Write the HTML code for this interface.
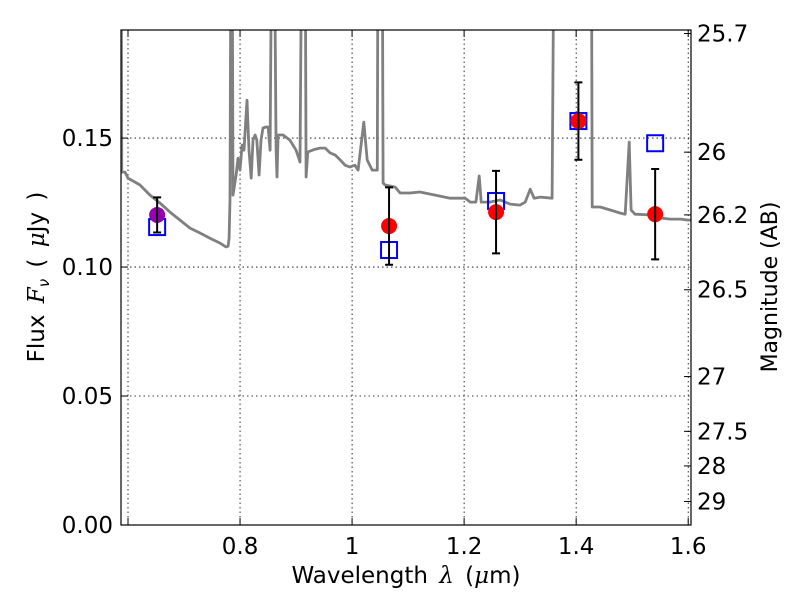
<!DOCTYPE html>
<html><head><meta charset="utf-8"><style>
body{margin:0;background:#fff}
svg text{font-family:"DejaVu Sans","Liberation Sans",sans-serif;fill:#000}
</style></head><body>
<svg id="chart" width="800" height="600" xmlns="http://www.w3.org/2000/svg">
<defs><clipPath id="clip"><rect x="121" y="30" width="570" height="495"/></clipPath></defs>
<g id="grid"></g>
<g id="spec" clip-path="url(#clip)"></g>
<g id="marks" clip-path="url(#clip)"></g>
<rect x="121" y="30" width="570" height="495" fill="none" stroke="#000" stroke-width="1.2"/>
<g id="axes"></g>
<text x="406" y="583" font-size="23" text-anchor="middle" word-spacing="4">Wavelength  <tspan font-style="italic" font-family="DejaVu Serif,serif">λ</tspan> (<tspan font-style="italic" font-family="DejaVu Serif,serif">μ</tspan>m)</text>
<text transform="translate(44,277) rotate(-90)" font-size="23" text-anchor="middle" word-spacing="4">Flux  <tspan font-style="italic" font-family="DejaVu Serif,serif">F</tspan><tspan font-style="italic" font-size="15" dy="5">ν</tspan><tspan dy="-5">  ( </tspan><tspan font-style="italic" font-family="DejaVu Serif,serif">μ</tspan>Jy )</text>
<text transform="translate(777,287) rotate(-90)" font-size="22" text-anchor="middle">Magnitude (AB)</text>
</svg>
<script>
const specLam=[0.5875,0.589,0.5946,0.6,0.6214,0.6393,0.6571,0.675,0.6929,0.7107,0.7286,0.7464,0.7643,0.775,0.7786,0.7804,0.7821,0.784,0.7857,0.7875,0.793,0.7964,0.8,0.8036,0.807,0.8125,0.816,0.82,0.8232,0.8268,0.830,0.834,0.8375,0.841,0.8464,0.85,0.8536,0.857,0.8607,0.8643,0.866,0.868,0.8768,0.889,0.9,0.907,0.9107,0.916,0.918,0.921,0.934,0.943,0.952,0.961,0.970,0.979,0.9875,0.996,1.005,1.0107,1.021,1.027,1.036,1.045,1.0464,1.0536,1.0554,1.059,1.077,1.0857,1.1036,1.121,1.157,1.175,1.202,1.211,1.221,1.227,1.2304,1.246,1.264,1.282,1.300,1.309,1.318,1.325,1.336,1.357,1.361,1.427,1.4286,1.443,1.461,1.479,1.4875,1.4946,1.498,1.505,1.532,1.55,1.568,1.586,1.6,1.605];
const specFlux=[0.25,0.1368,0.1368,0.1345,0.1318,0.1279,0.1248,0.1213,0.1182,0.1151,0.1132,0.1112,0.1093,0.1078,0.1081,0.1112,0.126,0.25,0.25,0.1279,0.1357,0.1422,0.1376,0.1473,0.1453,0.1647,0.1453,0.1345,0.1492,0.1512,0.1492,0.1357,0.1492,0.1539,0.1543,0.1543,0.1453,0.25,0.25,0.1453,0.1349,0.1512,0.1512,0.1492,0.1453,0.1407,0.25,0.25,0.1349,0.1446,0.1457,0.1461,0.1461,0.1442,0.1434,0.1415,0.1395,0.1388,0.1395,0.1376,0.1562,0.1415,0.1376,0.1376,0.25,0.25,0.1326,0.1318,0.131,0.1287,0.1287,0.1291,0.1275,0.1267,0.1267,0.1252,0.1252,0.1353,0.1252,0.1252,0.1260,0.1244,0.1240,0.1252,0.1302,0.1267,0.1271,0.1267,0.25,0.25,0.1233,0.1233,0.1221,0.1209,0.1205,0.1484,0.1221,0.1205,0.1202,0.119,0.1186,0.1186,0.1182,0.1182];
const obsLam=[0.652,1.066,1.257,1.404,1.541];
const obsFlux=[0.1202,0.1159,0.1213,0.1566,0.1205];
const obsErr=[0.0068,0.015,0.016,0.015,0.0175];
const obsColor=["#9400b0","red","red","red","red"];
const modelFlux=[0.1155,0.1066,0.1256,0.1566,0.148];
const xTicks=[0.6,0.8,1.0,1.2,1.4,1.6];
const xTickLabels=["","0.8","1","1.2","1.4","1.6"];
const yTicks=[0,0.05,0.10,0.15];
const yTickLabels=["0.00","0.05","0.10","0.15"];
const magTicks=[25.7,26,26.2,26.5,27,27.5,28,29];
const magTickLabels=["25.7","26","26.2","26.5","27","27.5","28","29"];

const NS="http://www.w3.org/2000/svg";
const X0=121,X1=691,Y0=525,Y1=30,LMIN=0.5875,LMAX=1.605,FMIN=0,FMAX=0.1919;
const sx=l=>X0+(l-LMIN)/(LMAX-LMIN)*(X1-X0);
const sy=f=>Y0-(f-FMIN)/(FMAX-FMIN)*(Y0-Y1);
const mag2f=m=>Math.pow(10,(23.9-m)/2.5);
function mk(tag,attrs,parent){const e=document.createElementNS(NS,tag);for(const k in attrs)e.setAttribute(k,attrs[k]);parent.appendChild(e);return e;}
const grid=document.getElementById('grid'),axes=document.getElementById('axes'),spec=document.getElementById('spec'),marks=document.getElementById('marks');
const FS=23;
xTicks.forEach((t,i)=>{const x=sx(t);
 const g=mk('line',{x1:x,x2:x,y1:Y1,y2:Y0,stroke:'#000','stroke-width':0.8,'stroke-dasharray':'1.5,3'},grid);
 
 
 mk('line',{x1:x,x2:x,y1:Y0,y2:Y0-7,stroke:'#000'},axes);
 mk('line',{x1:x,x2:x,y1:Y1,y2:Y1+7,stroke:'#000'},axes);
 if(xTickLabels[i]){const t2=mk('text',{x:x,y:Y0+29,'font-size':FS,'text-anchor':'middle'},axes);t2.textContent=xTickLabels[i];
 
 }
});
yTicks.forEach((t,i)=>{const y=sy(t);
 const g=mk('line',{x1:X0,x2:X1,y1:y,y2:y,stroke:'#000','stroke-width':0.8,'stroke-dasharray':'1.5,3'},grid);
 
 
 mk('line',{x1:X0,x2:X0+7,y1:y,y2:y,stroke:'#000'},axes);
 const t2=mk('text',{x:X0-8,y:y+8,'font-size':FS,'text-anchor':'end'},axes);t2.textContent=yTickLabels[i];
 
 
});
magTicks.forEach((m,i)=>{const y=sy(mag2f(m));
 mk('line',{x1:X1,x2:X1-7,y1:y,y2:y,stroke:'#000'},axes);
 const t2=mk('text',{x:X1+6,y:y+8,'font-size':FS,'text-anchor':'start'},axes);t2.textContent=magTickLabels[i];
 
 
});
const pts=specLam.map((l,i)=>sx(l).toFixed(1)+','+sy(specFlux[i]).toFixed(1)).join(' ');
const pl=mk('polyline',{points:pts,fill:'none',stroke:'#808080','stroke-width':2.8,'stroke-linejoin':'round'},spec);


obsLam.forEach((l,i)=>{const x=sx(l);
 const r=mk('rect',{x:x-8,y:sy(modelFlux[i])-8,width:16,height:16,fill:'none',stroke:'#0000ff','stroke-width':2},marks);
 
 
 const c=mk('circle',{cx:x,cy:sy(obsFlux[i]),r:8,fill:obsColor[i]},marks);
 
 
 const yt=sy(obsFlux[i]+obsErr[i]),yb=sy(obsFlux[i]-obsErr[i]);
 const e=mk('path',{d:`M${x},${yt}V${yb}M${x-4},${yt}H${x+4}M${x-4},${yb}H${x+4}`,stroke:'#000','stroke-width':2,fill:'none'},marks);
 
 
});
</script>
</body></html>
